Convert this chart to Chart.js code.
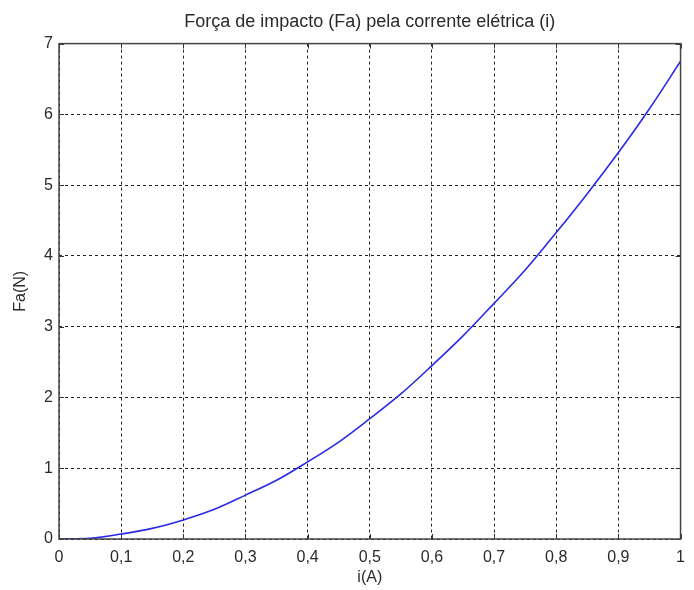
<!DOCTYPE html>
<html>
<head>
<meta charset="utf-8">
<script src="https://cdn.jsdelivr.net/npm/chart.js@4/dist/chart.umd.min.js"></script>
<style>
  html, body { margin: 0; padding: 0; background: #fff; }
  #wrap { width: 694px; height: 590px; }
</style>
</head>
<body>
<div id="wrap"><canvas id="c" width="694" height="590"></canvas></div>
<script>
// Data
const currentA = [0, 0.05, 0.1, 0.15, 0.2, 0.25, 0.3, 0.35, 0.4, 0.45, 0.5, 0.55, 0.6, 0.65, 0.7, 0.75, 0.8, 0.85, 0.9, 0.95, 1.0];
const forceN   = [0, 0.01, 0.07, 0.15, 0.27, 0.42, 0.62, 0.83, 1.09, 1.37, 1.70, 2.05, 2.45, 2.87, 3.33, 3.80, 4.33, 4.88, 5.46, 6.08, 6.75];
const xTicks = [0, 0.1, 0.2, 0.3, 0.4, 0.5, 0.6, 0.7, 0.8, 0.9, 1];
const yTicks = [0, 1, 2, 3, 4, 5, 6, 7];
const titleText = 'Força de impacto (Fa) pela corrente elétrica (i)';
const xLabel = 'i(A)';
const yLabel = 'Fa(N)';

const fontFamily = '"Liberation Sans", Arial, Helvetica, sans-serif';
const textColor = '#2a2a2a';

const points = currentA.map((x, i) => ({ x: x, y: forceN[i] }));

const fmt = v => String(Math.round(v * 10) / 10).replace('.', ',');

const boxPlugin = {
  id: 'boxPlugin',
  afterDatasetsDraw(chart) {
    const { ctx, chartArea: a, scales } = chart;
    ctx.save();
    // inward tick marks
    ctx.strokeStyle = '#333';
    ctx.lineWidth = 1;
    const tl = 5;
    ctx.beginPath();
    xTicks.forEach(v => {
      const px = Math.round(scales.x.getPixelForValue(v)) + 0.5;
      ctx.moveTo(px, a.bottom); ctx.lineTo(px, a.bottom - tl);
      ctx.moveTo(px, a.top); ctx.lineTo(px, a.top + tl);
    });
    yTicks.forEach(v => {
      const py = Math.round(scales.y.getPixelForValue(v)) + 0.5;
      ctx.moveTo(a.left, py); ctx.lineTo(a.left + tl, py);
      ctx.moveTo(a.right, py); ctx.lineTo(a.right - tl, py);
    });
    ctx.stroke();
    // axes box
    ctx.strokeStyle = '#444';
    ctx.lineWidth = 1.5;
    ctx.strokeRect(a.left, a.top, a.right - a.left, a.bottom - a.top);
    ctx.restore();
  }
};

new Chart(document.getElementById('c'), {
  type: 'line',
  data: {
    datasets: [{
      data: points,
      borderColor: '#2a2ae6',
      borderWidth: 1.6,
      pointRadius: 0,
      fill: false,
      tension: 0.35
    }]
  },
  options: {
    responsive: false,
    animation: false,
    devicePixelRatio: 1,
    layout: { padding: { left: 0, right: 6, top: 0, bottom: 0 } },
    plugins: {
      legend: { display: false },
      tooltip: { enabled: false },
      title: {
        display: true,
        fullSize: false,
        text: titleText,
        color: textColor,
        font: { family: fontFamily, size: 18, weight: 'normal' },
        padding: { top: 11, bottom: 11 }
      }
    },
    scales: {
      x: {
        type: 'linear',
        min: 0, max: 1,
        afterBuildTicks: s => { s.ticks = xTicks.map(v => ({ value: v })); },
        afterFit: s => { s.height = 51; },
        border: { display: false, dash: [3, 3] },
        grid: {
          color: 'rgba(0,0,0,0.85)',
          lineWidth: 1,
          drawTicks: false
        },
        ticks: {
          color: textColor,
          font: { family: fontFamily, size: 16 },
          padding: 9,
          maxRotation: 0,
          autoSkip: false,
          callback: v => fmt(v)
        },
        title: {
          display: true,
          text: xLabel,
          color: textColor,
          font: { family: fontFamily, size: 16 },
          padding: { top: 0, bottom: 3 }
        }
      },
      y: {
        type: 'linear',
        min: 0, max: 7,
        afterBuildTicks: s => { s.ticks = yTicks.map(v => ({ value: v })); },
        afterFit: s => { s.width = 59; },
        border: { display: false, dash: [3, 3] },
        grid: {
          color: 'rgba(0,0,0,0.85)',
          lineWidth: 1,
          drawTicks: false
        },
        ticks: {
          color: textColor,
          font: { family: fontFamily, size: 16 },
          padding: 6,
          autoSkip: false,
          callback: v => fmt(v)
        },
        title: {
          display: true,
          text: yLabel,
          color: textColor,
          font: { family: fontFamily, size: 16 },
          padding: { top: 11, bottom: 0 }
        }
      }
    }
  },
  plugins: [boxPlugin]
});
</script>
</body>
</html>
